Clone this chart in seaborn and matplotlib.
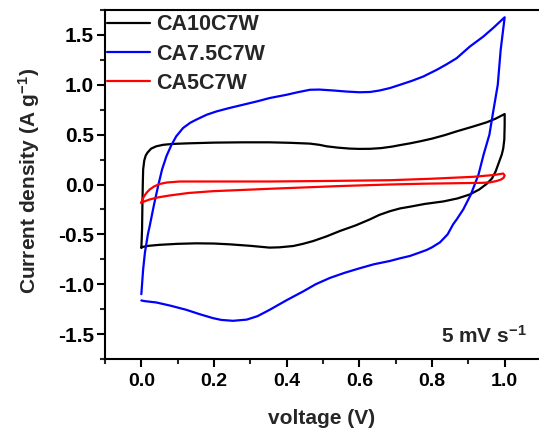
import matplotlib
matplotlib.use("Agg")
import matplotlib.pyplot as plt
import seaborn as sns
import pandas as pd
from matplotlib.ticker import MultipleLocator
from matplotlib.font_manager import FontProperties

# ---- data ----
labels = ["CA10C7W", "CA7.5C7W", "CA5C7W"]
colors = ["black", "#0000ff", "#ff0000"]

v_ca10 = [0.0, 0.001, 0.002, 0.003, 0.004, 0.005, 0.008, 0.012, 0.017, 0.027, 0.041, 0.06,
          0.086, 0.13, 0.2, 0.28, 0.353, 0.41, 0.464, 0.49, 0.51, 0.54, 0.574, 0.6, 0.63,
          0.66, 0.69, 0.712, 0.74, 0.767, 0.80, 0.835, 0.868, 0.91, 0.95, 0.975, 1.0,
          1.0, 0.999, 0.996, 0.992, 0.985, 0.975, 0.965, 0.95, 0.93, 0.904, 0.87, 0.831,
          0.78, 0.739, 0.712, 0.684, 0.655, 0.629, 0.59, 0.546, 0.51, 0.473, 0.445, 0.418,
          0.38, 0.353, 0.3, 0.243, 0.2, 0.151, 0.1, 0.05, 0.02, 0.005, 0.0]
i_ca10 = [-0.633, -0.55, -0.45, -0.2, 0.0, 0.15, 0.24, 0.29, 0.32, 0.36, 0.383, 0.398,
          0.407, 0.413, 0.42, 0.423, 0.423, 0.418, 0.41, 0.398, 0.383, 0.37, 0.36, 0.357, 0.358,
          0.365, 0.38, 0.395, 0.413, 0.433, 0.46, 0.495, 0.533, 0.578, 0.623, 0.66, 0.707,
          0.6, 0.45, 0.36, 0.3, 0.23, 0.13, 0.06, 0.005, -0.05, -0.10, -0.14, -0.17,
          -0.195, -0.223, -0.24, -0.268, -0.305, -0.35, -0.41, -0.467, -0.52, -0.567, -0.595,
          -0.617, -0.63, -0.633, -0.615, -0.60, -0.592, -0.59, -0.595, -0.605, -0.615, -0.625,
          -0.633]

v_ca75 = [0.0, 0.005, 0.01, 0.018, 0.023, 0.035, 0.046, 0.057, 0.069, 0.082, 0.096, 0.115,
          0.135, 0.151, 0.18, 0.207, 0.24, 0.28, 0.32, 0.353, 0.40, 0.43, 0.464, 0.49, 0.528,
          0.565, 0.601, 0.63, 0.656, 0.684, 0.712, 0.745, 0.776, 0.813, 0.84, 0.868, 0.904,
          0.941, 0.97, 1.0,
          0.989, 0.981, 0.967, 0.958, 0.942, 0.928, 0.907, 0.886, 0.868, 0.858, 0.843, 0.822,
          0.80, 0.785, 0.76, 0.739, 0.712, 0.684, 0.64, 0.601, 0.56, 0.519, 0.48, 0.445, 0.40,
          0.353, 0.32, 0.29, 0.252, 0.22, 0.197, 0.16, 0.124, 0.08, 0.041, 0.01, 0.0]
i_ca75 = [-1.10, -0.85, -0.68, -0.5, -0.417, -0.2, -0.017, 0.15, 0.283, 0.39, 0.483, 0.567,
          0.62, 0.65, 0.70, 0.733, 0.765, 0.80, 0.835, 0.867, 0.90, 0.925, 0.95, 0.952, 0.943,
          0.932, 0.925, 0.928, 0.943, 0.967, 1.0, 1.04, 1.083, 1.15, 1.205, 1.267, 1.383,
          1.483, 1.575, 1.677,
          1.35, 1.0, 0.7, 0.5, 0.3, 0.1, -0.1, -0.25, -0.35, -0.4, -0.5, -0.58,
          -0.63, -0.657, -0.69, -0.717, -0.74, -0.767, -0.80, -0.84, -0.885, -0.937, -1.0,
          -1.073, -1.16, -1.257, -1.32, -1.355, -1.367, -1.358, -1.34, -1.30, -1.257, -1.215,
          -1.183, -1.17, -1.163]

v_ca5 = [0.0, 0.002, 0.005, 0.009, 0.015, 0.023, 0.035, 0.05, 0.07, 0.105, 0.2, 0.353, 0.5,
         0.684, 0.8, 0.913, 0.97, 0.996, 1.0, 0.997, 0.99, 0.978, 0.96, 0.941, 0.85, 0.776,
         0.684, 0.55, 0.353, 0.197, 0.13, 0.078, 0.045, 0.023, 0.008, 0.0]
i_ca5 = [-0.183, -0.16, -0.135, -0.11, -0.08, -0.05, -0.02, 0.005, 0.02, 0.03, 0.03, 0.03,
         0.035, 0.043, 0.058, 0.077, 0.095, 0.11, 0.09, 0.067, 0.05, 0.035, 0.022, 0.017,
         0.012, 0.008, 0.0, -0.015, -0.043, -0.067, -0.085, -0.11, -0.13, -0.15, -0.17,
         -0.183]

xticks = [0.0, 0.2, 0.4, 0.6, 0.8, 1.0]
yticks = [-1.5, -1.0, -0.5, 0.0, 0.5, 1.0, 1.5]

frames = []
for lab, v, i in zip(labels, [v_ca10, v_ca75, v_ca5], [i_ca10, i_ca75, i_ca5]):
    frames.append(pd.DataFrame({"voltage": v, "current": i, "sample": lab}))
df = pd.concat(frames, ignore_index=True)

sns.set_theme(style="ticks")
plt.rcParams["font.family"] = ["Liberation Sans", "DejaVu Sans"]
plt.rcParams["font.weight"] = "bold"
plt.rcParams["mathtext.fontset"] = "custom"
plt.rcParams["mathtext.rm"] = "Liberation Sans:bold"
plt.rcParams["mathtext.bf"] = "Liberation Sans:bold"
plt.rcParams["mathtext.it"] = "Liberation Sans:bold"
plt.rcParams["mathtext.default"] = "bf"
plt.rcParams["axes.unicode_minus"] = False

fig = plt.figure(figsize=(5.39, 4.28), dpi=100)
ax = fig.add_axes([105/539, (428-359)/428, (541-105)/539, (359-10)/428])

sns.lineplot(data=df, x="voltage", y="current", hue="sample", units="sample",
             estimator=None, sort=False, palette=dict(zip(labels, colors)),
             hue_order=labels, linewidth=1.6, ax=ax)

ax.set_xlim(-0.1, 1.1)
ax.set_ylim(-1.75, 1.75)
ax.set_xticks(xticks)
ax.set_yticks(yticks)
ax.set_xticklabels([f"{t:.1f}" for t in xticks])
ax.set_yticklabels([f"{t:.1f}" for t in yticks])
ax.xaxis.set_minor_locator(MultipleLocator(0.1))
ax.yaxis.set_minor_locator(MultipleLocator(0.25))
ax.tick_params(axis="both", which="major", direction="out", length=6, width=1.5,
               colors="black")
ax.tick_params(axis="x", which="major", labelsize=14, pad=4)
ax.tick_params(axis="y", which="major", labelsize=15, pad=2)
ax.tick_params(axis="both", which="minor", direction="out", length=3.5, width=1.5)
ax.tick_params(top=False, right=False, which="both")
for lab in ax.get_xticklabels() + ax.get_yticklabels():
    lab.set_fontweight("bold")
for sp in ax.spines.values():
    sp.set_linewidth(1.5)
    sp.set_color("black")

ax.set_xlabel("voltage (V)", fontsize=15, fontweight="bold")
ax.set_ylabel("Current density (A g$^{-1}$)", fontsize=15, fontweight="bold")
ax.xaxis.set_label_coords(0.497, -0.144)
ax.yaxis.set_label_coords(-0.145, 0.51)

ax.text(1.06, -1.59, "5 mV s$^{-1}$", fontsize=15, fontweight="bold", ha="right",
        va="baseline")

legfont = FontProperties(family="Liberation Sans", weight="bold", size=15.5)
handles, labs = ax.get_legend_handles_labels()
leg = ax.legend(handles, labs, loc="upper left", bbox_to_anchor=(-0.008, 1.003),
                frameon=False, prop=legfont,
                handlelength=2.0, handletextpad=0.3, labelspacing=0.38,
                borderpad=0.25, borderaxespad=0.0)
for t in leg.get_texts():
    t.set_fontproperties(legfont)
for l in leg.get_lines():
    l.set_linewidth(1.6)

fig.savefig("out.png", dpi=100)
